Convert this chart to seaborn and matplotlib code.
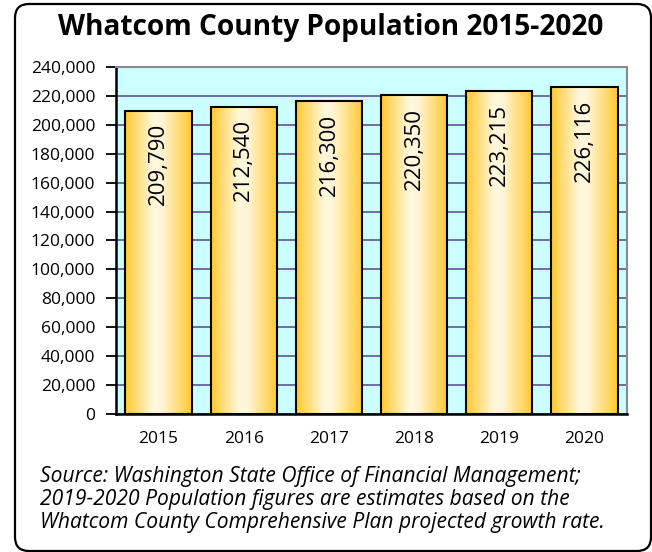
import numpy as np
import matplotlib
matplotlib.use("Agg")
import matplotlib.pyplot as plt
from matplotlib.colors import LinearSegmentedColormap
from matplotlib.patches import FancyBboxPatch
from matplotlib.transforms import IdentityTransform
from matplotlib.ticker import FuncFormatter, MultipleLocator
import seaborn as sns

years = ["2015", "2016", "2017", "2018", "2019", "2020"]
population = [209790, 212540, 216300, 220350, 223215, 226116]
value_labels = ["209,790", "212,540", "216,300", "220,350", "223,215", "226,116"]

title = "Whatcom County Population 2015-2020"
source_lines = [
    "Source: Washington State Office of Financial Management;",
    "2019-2020 Population figures are estimates based on the",
    "Whatcom County Comprehensive Plan projected growth rate.",
]

sns.set_theme(style="white")
plt.rcParams["font.family"] = ["Open Sans", "DejaVu Sans"]
plt.rcParams["text.color"] = "black"
plt.rcParams["xtick.color"] = "black"
plt.rcParams["ytick.color"] = "black"

fig = plt.figure(figsize=(6.52, 5.52), dpi=100)
W, H = 652, 552

# rounded outer frame, in pixel units so the corners stay circular
frame = FancyBboxPatch((15, 1), 636, 547,
                       boxstyle="round,pad=0,rounding_size=14",
                       transform=IdentityTransform(), facecolor="white",
                       edgecolor="black", linewidth=1.6, zorder=-5)
fig.patches.append(frame)

ax = fig.add_axes([116 / W, 1 - 414 / H, 511 / W, 347 / H])
ax.set_zorder(2)
ax.set_facecolor("#CCFFFF")

sns.barplot(x=years, y=population, ax=ax, width=0.78, color="#FFCC33",
            edgecolor="black", linewidth=1.5, saturation=1)

# gold-to-cream cylinder shading on each bar
grad = LinearSegmentedColormap.from_list(
    "gold", [(0.0, "#FFC82E"), (0.42, "#FFF8DE"), (0.55, "#FFF6D8"), (1.0, "#FFC82E")])
profile = np.linspace(0, 1, 256).reshape(1, -1)
for patch in ax.patches:
    x0, y0 = patch.get_x(), patch.get_y()
    w, h = patch.get_width(), patch.get_height()
    img = ax.imshow(profile, cmap=grad, aspect="auto", extent=(x0, x0 + w, y0, y0 + h),
                    zorder=2, interpolation="bilinear")
    img.set_clip_path(patch)
    patch.set_facecolor("none")
    patch.set_zorder(3)

for patch, lab in zip(ax.patches, value_labels):
    cx = patch.get_x() + patch.get_width() / 2
    ax.annotate(lab, (cx, patch.get_height()), xytext=(0, -9), textcoords="offset points",
                rotation=90, ha="center", va="top", fontsize=16, color="black", zorder=4)

ax.set_xlim(-0.5, 5.5)
ax.set_ylim(0, 240000)
ax.yaxis.set_major_locator(MultipleLocator(20000))
ax.yaxis.set_major_formatter(FuncFormatter(lambda v, p: f"{int(v):,}"))
ax.grid(axis="y", color="#6E6EA8", linewidth=1.4)
ax.grid(axis="x", visible=False)
ax.set_axisbelow(True)

# category separators on the x axis
ax.set_xticks(np.arange(-0.5, 6, 1), minor=True)
ax.tick_params(axis="x", which="major", length=0, labelsize=12.5, pad=12)
ax.tick_params(axis="x", which="minor", length=6, width=1.3, color="black", direction="out")
ax.tick_params(axis="y", length=7, width=1.3, color="black", direction="out",
               labelsize=12.5, pad=8, left=True)

for s in ["left", "bottom"]:
    ax.spines[s].set_color("black")
    ax.spines[s].set_linewidth(1.8)
for s in ["top", "right"]:
    ax.spines[s].set_color("#8A8A8A")
    ax.spines[s].set_linewidth(1.5)
ax.set_xlabel("")
ax.set_ylabel("")

fig.text(331 / W, 1 - 35 / H, title, ha="center", va="baseline",
         fontsize=20.2, fontweight="bold")

for i, line in enumerate(source_lines):
    fig.text(40 / W, 1 - (482 + 23 * i) / H, line, ha="left", va="baseline",
             fontsize=15.1, style="italic")

fig.savefig("out.png", dpi=100)
